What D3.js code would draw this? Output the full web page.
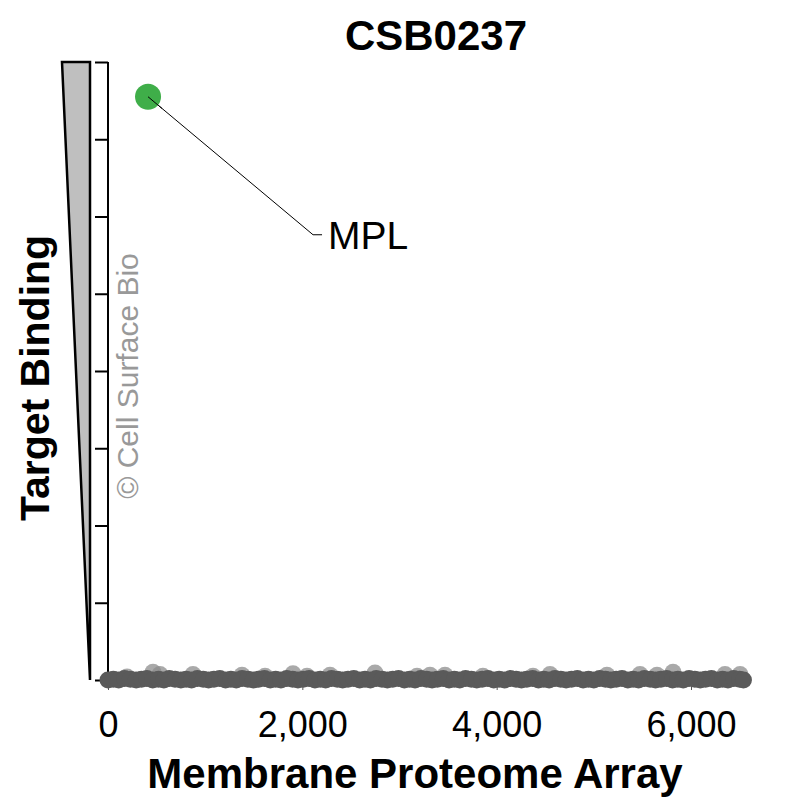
<!DOCTYPE html>
<html>
<head>
<meta charset="utf-8">
<script src="https://cdn.jsdelivr.net/npm/d3@7"></script>
<style>
  html, body { margin: 0; padding: 0; background: #fff; }
  svg { display: block; }
  text { font-family: "Liberation Sans", Arial, sans-serif; }
</style>
</head>
<body>
<script>
// ---- data ----
const title = "CSB0237";
const xLabel = "Membrane Proteome Array";
const yLabel = "Target Binding";
const watermark = "\u00A9 Cell Surface Bio";
const xTicks = [0, 2000, 4000, 6000];
const yTicks = [0, 1, 2, 3, 4, 5, 6, 7, 8];

// non-binding proteins lying on the baseline
const baseX = [0, 55, 110, 170, 230, 290, 345, 400, 460, 520, 575, 630, 690, 750, 805, 860, 920, 980, 1035, 1090,
  1150, 1210, 1265, 1320, 1380, 1440, 1495, 1550, 1610, 1670, 1725, 1780, 1840, 1900, 1955, 2010, 2070, 2130, 2185, 2240,
  2300, 2360, 2415, 2470, 2530, 2590, 2645, 2700, 2760, 2820, 2875, 2930, 2990, 3050, 3105, 3160, 3220, 3280, 3335, 3390,
  3450, 3510, 3565, 3620, 3680, 3740, 3795, 3850, 3910, 3970, 4025, 4080, 4140, 4200, 4255, 4310, 4370, 4430, 4485, 4540,
  4600, 4660, 4715, 4770, 4830, 4890, 4945, 5000, 5060, 5120, 5175, 5230, 5290, 5350, 5405, 5460, 5520, 5580, 5635, 5690,
  5750, 5810, 5865, 5920, 5980, 6040, 6095, 6150, 6210, 6270, 6325, 6380, 6440, 6500, 6540];
const baseY = [0.00, 0.01, 0.00, 0.02, 0.01, 0.00, 0.01, 0.02, 0.00, 0.01, 0.00, 0.02, 0.01, 0.00, 0.01, 0.00, 0.02, 0.01, 0.00, 0.01,
  0.02, 0.00, 0.01, 0.00, 0.02, 0.01, 0.00, 0.01, 0.02, 0.00, 0.01, 0.00, 0.02, 0.01, 0.00, 0.01, 0.02, 0.00, 0.01, 0.00,
  0.02, 0.01, 0.00, 0.01, 0.02, 0.00, 0.01, 0.00, 0.02, 0.01, 0.00, 0.01, 0.02, 0.00, 0.01, 0.00, 0.02, 0.01, 0.00, 0.01,
  0.02, 0.00, 0.01, 0.00, 0.02, 0.01, 0.00, 0.01, 0.02, 0.00, 0.01, 0.00, 0.02, 0.01, 0.00, 0.01, 0.02, 0.00, 0.01, 0.00,
  0.02, 0.01, 0.00, 0.01, 0.02, 0.00, 0.01, 0.00, 0.02, 0.01, 0.00, 0.01, 0.02, 0.00, 0.01, 0.00, 0.02, 0.01, 0.00, 0.01,
  0.02, 0.00, 0.01, 0.00, 0.02, 0.01, 0.00, 0.01, 0.02, 0.00, 0.01, 0.00, 0.02, 0.01, 0.00];

// weakly raised proteins (small bumps above the band)
const raisedX = [196, 463, 535, 875, 1379, 1616, 1904, 2048, 2285, 2748, 3180, 3314, 3468, 3859, 4374, 4549, 5135, 5475, 5650, 5815, 6350, 6505];
const raisedY = [0.04, 0.10, 0.07, 0.07, 0.06, 0.05, 0.08, 0.05, 0.06, 0.09, 0.05, 0.06, 0.06, 0.05, 0.05, 0.07, 0.06, 0.07, 0.06, 0.10, 0.07, 0.07];

// the hit
const hitNames = ["MPL"];
const hitX = [412];
const hitY = [7.55];

// ---- drawing ----
const W = 803, H = 803;
const svg = d3.select("body").append("svg").attr("width", W).attr("height", H);

const x = d3.scaleLinear().domain([0, 6000]).range([108, 691]);
const y = d3.scaleLinear().domain([0, 8]).range([680, 62]);

// title
svg.append("text").attr("x", 436).attr("y", 50).attr("text-anchor", "middle")
  .attr("font-size", 42).attr("font-weight", "bold").attr("fill", "#000").text(title);

// wedge (triangle) beside y axis
const yTop = y(8), yBot = y(0);
svg.append("path")
  .attr("d", `M62,${yTop} L90,${yTop} L90,${yBot} Z`)
  .attr("fill", "#bfbfbf").attr("stroke", "#000").attr("stroke-width", 2.5).attr("stroke-linejoin", "miter");

// y axis (no labels)
const yAxis = d3.axisLeft(y).tickValues(yTicks).tickSize(13).tickFormat("");
const gy = svg.append("g").attr("transform", "translate(108,0)").call(yAxis);
gy.select(".domain").attr("stroke", "#000").attr("stroke-width", 2).attr("d", `M0,${yTop}V${yBot}`);
gy.selectAll(".tick line").attr("stroke", "#000").attr("stroke-width", 2);

// watermark
svg.append("text")
  .attr("transform", `translate(138,376) rotate(-90)`)
  .attr("text-anchor", "middle").attr("font-size", 30).attr("fill", "#999").text(watermark);

// x axis
const xAxis = d3.axisBottom(x).tickValues(xTicks).tickSize(5).tickFormat(d3.format(","));
const gx = svg.append("g").attr("transform", "translate(0,685)").call(xAxis);
gx.select(".domain").remove();
gx.selectAll(".tick line").attr("stroke", "#555").attr("stroke-width", 1);
gx.selectAll(".tick text").attr("y", 52).attr("dy", 0).attr("font-size", 36)
  .attr("font-family", "'Liberation Sans', Arial, sans-serif").attr("fill", "#000");

// raised points (behind the band, lighter)
svg.append("g").selectAll("circle").data(raisedX.map((v, i) => ({x: v, y: raisedY[i]}))).join("circle")
  .attr("cx", d => x(d.x)).attr("cy", d => y(d.y)).attr("r", 8.5)
  .attr("fill", "#8c8c8c").attr("fill-opacity", 0.75);

// baseline points (dense, dark band)
svg.append("g").selectAll("circle").data(baseX.map((v, i) => ({x: v, y: baseY[i]}))).join("circle")
  .attr("cx", d => x(d.x)).attr("cy", d => y(d.y)).attr("r", 8.5)
  .attr("fill", "#5a5a5a");

// leader line + label for hits
hitNames.forEach((name, i) => {
  const px = x(hitX[i]), py = y(hitY[i]);
  const lx = px + 174, ly = py + 138;
  svg.append("polyline")
    .attr("points", `${px},${py} ${lx - 9},${ly} ${lx},${ly}`)
    .attr("fill", "none").attr("stroke", "#000").attr("stroke-width", 1);
  svg.append("text").attr("x", lx + 6).attr("y", ly + 14)
    .attr("font-size", 39).attr("fill", "#000").text(name);
});

// hit point
svg.append("g").selectAll("circle").data(hitNames).join("circle")
  .attr("cx", (d, i) => x(hitX[i])).attr("cy", (d, i) => y(hitY[i])).attr("r", 13)
  .attr("fill", "#3fae49");

// leader line start drawn over the point (as in reference)
hitNames.forEach((name, i) => {
  const px = x(hitX[i]), py = y(hitY[i]);
  svg.append("line").attr("x1", px).attr("y1", py).attr("x2", px + 14).attr("y2", py + 11.7)
    .attr("stroke", "#000").attr("stroke-width", 1);
});

// axis titles
svg.append("text").attr("x", 415).attr("y", 788).attr("text-anchor", "middle")
  .attr("font-size", 42).attr("font-weight", "bold").attr("fill", "#000").text(xLabel);
svg.append("text").attr("transform", "translate(49,378) rotate(-90)").attr("text-anchor", "middle")
  .attr("font-size", 41).attr("font-weight", "bold").attr("fill", "#000").text(yLabel);
</script>
</body>
</html>
